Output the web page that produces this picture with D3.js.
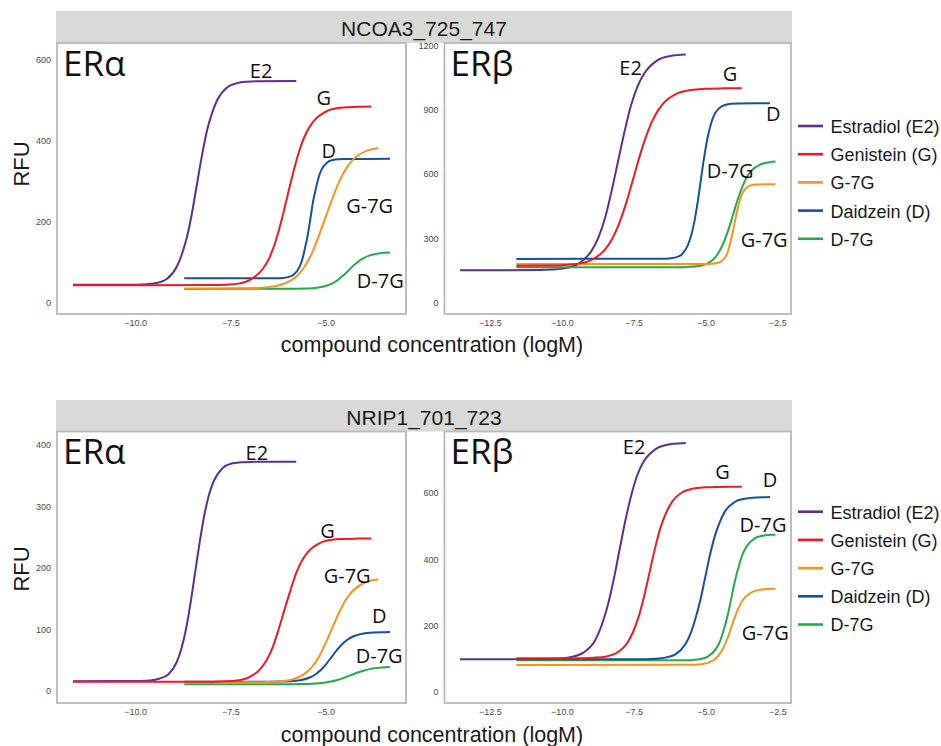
<!DOCTYPE html>
<html lang="en">

<head>
    <meta charset="UTF-8">
    <script src="https://d3js.org/d3.v7.min.js"></script>
    <title>ER peptide binding curves</title>
    <style>
        body { margin: 0; background: #fff; }
        svg text { font-family: "Liberation Sans", Arial, sans-serif; }
        svg text.tag { font-family: "Open Sans", sans-serif; }
    </style>
</head>

<body>
    <svg id="curvePlot" width="941" height="746"></svg>

    <script>
        // ---- values ----
        const compounds = ["Estradiol (E2)", "Genistein (G)", "G-7G", "Daidzein (D)", "D-7G"];
        const compoundIds = ["E2", "G", "G-7G", "D", "D-7G"];
        const colors = ["#5f2f90", "#ec1c24", "#f7941d", "#17509f", "#26a94d"];
        const peptides = ["NCOA3_725_747", "NRIP1_701_723"];
        const receptors = ["ERα", "ERβ"];

        // axes (logM on x, RFU on y)
        const alphaXDomain = [-12.05, -2.89];
        const betaXDomain = [-14.08, -2.03];
        const alphaXTicks = [-10, -7.5, -5];
        const betaXTicks = [-12.5, -10, -7.5, -5, -2.5];
        const ncoa3AlphaYDomain = [-27, 642];
        const ncoa3BetaYDomain = [-53, 1211];
        const nrip1AlphaYDomain = [-19.5, 422];
        const nrip1BetaYDomain = [-34, 786];
        const ncoa3AlphaYTicks = [0, 200, 400, 600];
        const ncoa3BetaYTicks = [0, 300, 600, 900, 1200];
        const nrip1AlphaYTicks = [0, 100, 200, 300, 400];
        const nrip1BetaYTicks = [0, 200, 400, 600];

        // dose-response curves: log concentration and RFU
        const ncoa3Alpha = [
            { id: "E2", logM: [-11.63, -9.95, -9.69, -9.42, -9.16, -8.90, -8.77, -8.63, -8.50, -8.37, -8.24, -8.11, -7.97, -7.84, -7.58, -7.32, -7.05, -6.79, -5.77],
              rfu: [45, 45.5, 46.6, 50, 60, 91, 121, 166, 226, 297, 367, 427, 472, 502, 533, 543, 546.4, 547.5, 548] },
            { id: "D-7G", logM: [-8.71, -6.07, -5.79, -5.51, -5.23, -4.96, -4.82, -4.68, -4.54, -4.40, -4.26, -4.12, -3.98, -3.84, -3.57, -3.31],
              rfu: [35, 35.1, 35.3, 35.9, 37.8, 43.3, 48.7, 56.9, 67.8, 80.5, 93.2, 104.1, 112.3, 117.7, 123.2, 125] },
            { id: "D", logM: [-8.71, -6.28, -6.14, -5.99, -5.84, -5.69, -5.62, -5.55, -5.47, -5.40, -5.33, -5.25, -5.18, -5.11, -4.96, -4.81, -4.67, -4.52, -3.31],
              rfu: [61, 61.3, 61.9, 64, 70, 88, 105, 132, 167, 208, 250, 285, 311, 329, 347, 353, 355.1, 355.7, 356] },
            { id: "G-7G", logM: [-8.71, -7.22, -6.85, -6.48, -6.11, -5.74, -5.56, -5.37, -5.19, -5.00, -4.81, -4.63, -4.44, -4.26, -3.89, -3.62],
              rfu: [36, 36.4, 37.1, 39.5, 47, 68, 89, 121, 163, 212, 261, 303, 335, 356, 377, 383] },
            { id: "G", logM: [-11.63, -7.94, -7.61, -7.29, -6.97, -6.65, -6.48, -6.32, -6.16, -6.00, -5.84, -5.68, -5.52, -5.35, -5.03, -4.71, -4.39, -4.07, -3.80],
              rfu: [44, 44.4, 45.4, 48, 58, 84, 111, 150, 203, 265, 326, 379, 418, 445, 471, 481, 483.6, 484.6, 485] }
        ];

        const ncoa3Beta = [
            { id: "E2", logM: [-13.54, -10.78, -10.32, -9.87, -9.41, -8.96, -8.73, -8.50, -8.28, -8.05, -7.82, -7.60, -7.37, -7.14, -6.69, -6.23, -5.69],
              rfu: [151, 152, 154.2, 161, 182, 243, 303, 394, 514, 656, 797, 917, 1008, 1068, 1129, 1150, 1157] },
            { id: "D-7G", logM: [-11.58, -5.94, -5.62, -5.31, -4.99, -4.67, -4.52, -4.36, -4.20, -4.04, -3.88, -3.72, -3.57, -3.41, -3.09, -2.77, -2.57],
              rfu: [165, 165.5, 166.6, 170, 180, 210, 240, 284, 343, 413, 482, 541, 585, 615, 645, 655, 658] },
            { id: "D", logM: [-11.58, -6.47, -6.26, -6.04, -5.82, -5.61, -5.50, -5.39, -5.28, -5.17, -5.06, -4.95, -4.84, -4.74, -4.52, -4.30, -4.08, -3.87, -2.76],
              rfu: [204, 204.7, 206.3, 211, 226, 270, 314, 378, 465, 567, 669, 756, 820, 864, 908, 923, 927.7, 929.3, 930] },
            { id: "G-7G", logM: [-11.58, -4.94, -4.78, -4.63, -4.47, -4.31, -4.23, -4.16, -4.08, -4.00, -3.92, -3.84, -3.77, -3.69, -3.53, -3.38, -3.22, -3.06, -2.57],
              rfu: [180, 180.4, 181.2, 184, 191, 214, 236, 269, 314, 366, 418, 463, 496, 518, 541, 548, 550.8, 551.6, 552] },
            { id: "G", logM: [-11.58, -10.50, -10.00, -9.50, -9.00, -8.50, -8.25, -8.00, -7.75, -7.50, -7.25, -7.00, -6.75, -6.50, -6.00, -5.50, -5.00, -4.50, -3.74],
              rfu: [172, 172.8, 174.6, 180, 197, 247, 297, 371, 470, 586, 702, 801, 875, 925, 975, 992, 997.4, 999.2, 1000] }
        ];

        const nrip1Alpha = [
            { id: "E2", logM: [-11.63, -9.85, -9.61, -9.37, -9.13, -8.90, -8.78, -8.66, -8.54, -8.42, -8.30, -8.18, -8.06, -7.94, -7.71, -7.47, -7.23, -6.99, -5.77],
              rfu: [16, 16.4, 17.1, 20, 27, 48, 70, 102, 145, 195, 244, 287, 319, 341, 362, 370, 371.9, 372.6, 373] },
            { id: "D-7G", logM: [-8.71, -6.41, -6.06, -5.72, -5.38, -5.04, -4.86, -4.69, -4.52, -4.35, -4.18, -4.01, -3.84, -3.66, -3.31],
              rfu: [11, 11.0, 11.1, 11.3, 11.9, 13.6, 15.4, 18.0, 21.4, 25.5, 29.6, 33.0, 35.6, 37.4, 39.1] },
            { id: "D", logM: [-8.71, -6.51, -6.23, -5.95, -5.67, -5.40, -5.26, -5.12, -4.98, -4.84, -4.70, -4.56, -4.42, -4.28, -4.01, -3.73, -3.45, -3.31],
              rfu: [15, 15.1, 15.3, 15.8, 17.5, 22.4, 27.2, 34.5, 44.2, 55.5, 66.8, 76.5, 83.8, 88.6, 93.5, 95.2, 95.7, 96] },
            { id: "G-7G", logM: [-8.71, -6.85, -6.52, -6.18, -5.85, -5.52, -5.35, -5.18, -5.02, -4.85, -4.68, -4.52, -4.35, -4.18, -3.85, -3.62],
              rfu: [14, 14.2, 14.5, 15.7, 19.2, 29.5, 39.7, 54.9, 75.2, 99, 122.8, 143.1, 158.3, 168.5, 178.8, 181.6] },
            { id: "G", logM: [-11.63, -7.96, -7.64, -7.33, -7.02, -6.71, -6.55, -6.39, -6.24, -6.08, -5.92, -5.77, -5.61, -5.45, -5.14, -4.83, -4.52, -4.21, -3.80],
              rfu: [15, 15.2, 15.7, 17, 22, 36, 50, 71, 99, 132, 164, 192, 213, 227, 241, 246, 247.3, 247.8, 248] }
        ];

        const nrip1Beta = [
            { id: "E2", logM: [-13.54, -10.50, -10.08, -9.67, -9.25, -8.83, -8.63, -8.42, -8.21, -8.00, -7.79, -7.58, -7.38, -7.17, -6.75, -6.33, -5.92, -5.69],
              rfu: [98, 98.7, 100.1, 105, 118, 157, 197, 255, 333, 425, 517, 595, 653, 693, 732, 746, 749.9, 751] },
            { id: "D-7G", logM: [-11.58, -5.71, -5.44, -5.18, -4.91, -4.64, -4.50, -4.37, -4.23, -4.10, -3.97, -3.83, -3.70, -3.56, -3.29, -3.02, -2.76, -2.57],
              rfu: [95, 95.4, 96.2, 98.8, 106.7, 129.5, 152.4, 186.3, 231.8, 285, 338.2, 383.7, 417.6, 440.5, 463.3, 471.2, 473.8, 474.5] },
            { id: "D", logM: [-11.58, -7.09, -6.74, -6.40, -6.05, -5.71, -5.54, -5.37, -5.19, -5.02, -4.85, -4.68, -4.50, -4.33, -3.99, -3.64, -3.29, -2.95, -2.76],
              rfu: [98, 98.5, 99.6, 103, 113, 143, 172, 216, 274, 343, 412, 470, 514, 544, 573, 583, 586.4, 587.5, 588] },
            { id: "G-7G", logM: [-11.58, -5.68, -5.42, -5.15, -4.89, -4.63, -4.50, -4.36, -4.23, -4.10, -3.97, -3.84, -3.71, -3.57, -3.31, -3.05, -2.78, -2.57],
              rfu: [81, 81.2, 81.7, 83.3, 88.1, 101.9, 115.7, 136.3, 163.8, 196, 228.2, 255.7, 276.3, 290.1, 303.9, 308.7, 310.3, 310.7] },
            { id: "G", logM: [-11.58, -9.26, -8.87, -8.49, -8.10, -7.72, -7.53, -7.33, -7.14, -6.95, -6.76, -6.57, -6.37, -6.18, -5.80, -5.41, -5.03, -4.64, -3.74],
              rfu: [101, 101.5, 102.7, 106, 117, 148, 179, 226, 288, 360, 433, 495, 541, 572, 603, 614, 617.3, 618.5, 619] }
        ];

        // curve name tags, placed in data units (logM, RFU) at the text baseline start
        const ncoa3AlphaTags = [["E2", -6.99, 555], ["G", -5.24, 489], ["D", -5.11, 357], ["G-7G", -4.46, 223], ["D-7G", -4.18, 36]];
        const ncoa3BetaTags = [["E2", -8.0, 1061], ["G", -4.40, 1035], ["D", -2.90, 848], ["D-7G", -4.96, 580], ["G-7G", -3.78, 261]];
        const nrip1AlphaTags = [["E2", -7.10, 376], ["G", -5.14, 249], ["G-7G", -5.05, 175], ["D", -3.78, 110], ["D-7G", -4.21, 46]];
        const nrip1BetaTags = [["E2", -7.88, 717], ["G", -4.66, 644], ["D", -3.01, 618], ["D-7G", -3.82, 481], ["G-7G", -3.74, 156]];

        // ---- layout ----
        const svg = d3.select("svg#curvePlot");
        const cols = [{ left: 57, right: 406 }, { left: 444.5, right: 791 }];
        const rows = [
            { stripTop: 11, top: 43, bottom: 314, legendTop: 126, xTitle: 352, yMid: 164 },
            { stripTop: 400, top: 431.5, bottom: 703, legendTop: 511.7, xTitle: 742, yMid: 569 }
        ];
        const colorOf = d3.scaleOrdinal(compoundIds, colors);

        const panels = [
            { row: 0, col: 0, curves: ncoa3Alpha, xDomain: alphaXDomain, xTicks: alphaXTicks, yDomain: ncoa3AlphaYDomain, yTicks: ncoa3AlphaYTicks, tags: ncoa3AlphaTags },
            { row: 0, col: 1, curves: ncoa3Beta, xDomain: betaXDomain, xTicks: betaXTicks, yDomain: ncoa3BetaYDomain, yTicks: ncoa3BetaYTicks, tags: ncoa3BetaTags },
            { row: 1, col: 0, curves: nrip1Alpha, xDomain: alphaXDomain, xTicks: alphaXTicks, yDomain: nrip1AlphaYDomain, yTicks: nrip1AlphaYTicks, tags: nrip1AlphaTags },
            { row: 1, col: 1, curves: nrip1Beta, xDomain: betaXDomain, xTicks: betaXTicks, yDomain: nrip1BetaYDomain, yTicks: nrip1BetaYTicks, tags: nrip1BetaTags }
        ];

        // grey facet strips with the peptide name
        rows.forEach((r, i) => {
            svg.append("rect")
                .attr("x", 56).attr("y", r.stripTop)
                .attr("width", 792 - 56).attr("height", r.top - r.stripTop)
                .attr("fill", "#d9dad8");
            svg.append("text")
                .attr("x", 424).attr("y", r.stripTop + 24.5)
                .attr("text-anchor", "middle")
                .style("font-size", "21px").attr("fill", "#1a1a1a")
                .text(peptides[i]);
        });

        panels.forEach((p) => {
            const c = cols[p.col], r = rows[p.row];
            const x = d3.scaleLinear().domain(p.xDomain).range([c.left, c.right]);
            const y = d3.scaleLinear().domain(p.yDomain).range([r.bottom, r.top]);

            // panel frame
            svg.append("rect")
                .attr("x", c.left).attr("y", r.top)
                .attr("width", c.right - c.left).attr("height", r.bottom - r.top)
                .attr("fill", "#fff").attr("stroke", "#b9b9b9").attr("stroke-width", 1.8);

            // tick labels only, no tick marks or domain line
            const xAxis = svg.append("g")
                .attr("transform", `translate(0,${r.bottom + 3})`)
                .call(d3.axisBottom(x).tickValues(p.xTicks).tickFormat(d3.format(".1f")).tickSize(0).tickPadding(3));
            const yAxis = svg.append("g")
                .attr("transform", `translate(${c.left - 3},0)`)
                .call(d3.axisLeft(y).tickValues(p.yTicks).tickFormat(d3.format("d")).tickSize(0).tickPadding(3));
            [xAxis, yAxis].forEach((g) => {
                g.select(".domain").remove();
                g.selectAll("text")
                    .style("font-family", "'Liberation Sans', Arial, sans-serif")
                    .style("font-size", "9px").attr("fill", "#4a4a4a");
            });

            // fitted dose-response curves
            const line = d3.line()
                .x(d => x(d[0]))
                .y(d => y(d[1]))
                .curve(d3.curveMonotoneX);
            svg.append("g").selectAll("path")
                .data(p.curves)
                .join("path")
                .attr("d", d => line(d3.zip(d.logM, d.rfu)))
                .attr("fill", "none")
                .attr("stroke", d => colorOf(d.id))
                .attr("stroke-width", 2);

            // receptor tag in the corner
            svg.append("text")
                .attr("class", "tag")
                .attr("x", c.left + 6).attr("y", r.top + 32.5)
                .style("font-size", "35px").attr("fill", "#111")
                .text(receptors[p.col]);

            // curve names
            svg.append("g").selectAll("text")
                .data(p.tags)
                .join("text")
                .attr("class", "tag")
                .attr("x", d => x(d[1]))
                .attr("y", d => y(d[2]))
                .style("font-size", "20px").attr("fill", "#111")
                .text(d => d[0]);
        });

        // axis titles and legends, one set per row
        rows.forEach((r) => {
            svg.append("text")
                .attr("transform", `translate(28.5,${r.yMid}) rotate(-90)`)
                .attr("text-anchor", "middle")
                .style("font-size", "22px").attr("fill", "#1a1a1a")
                .text("RFU");
            svg.append("text")
                .attr("x", 432).attr("y", r.xTitle)
                .attr("text-anchor", "middle")
                .style("font-size", "21.5px").attr("fill", "#1a1a1a")
                .text("compound concentration (logM)");

            const legend = svg.append("g")
                .attr("transform", `translate(798,${r.legendTop})`);
            compounds.forEach((name, i) => {
                legend.append("line")
                    .attr("x1", 0).attr("x2", 25)
                    .attr("y1", i * 28.2).attr("y2", i * 28.2)
                    .attr("stroke", colors[i]).attr("stroke-width", 2.6);
                legend.append("text")
                    .attr("x", 32.5).attr("y", i * 28.2 + 7)
                    .style("font-size", "18px").attr("fill", "#1a1a1a")
                    .text(name);
            });
        });
    </script>
</body>

</html>
